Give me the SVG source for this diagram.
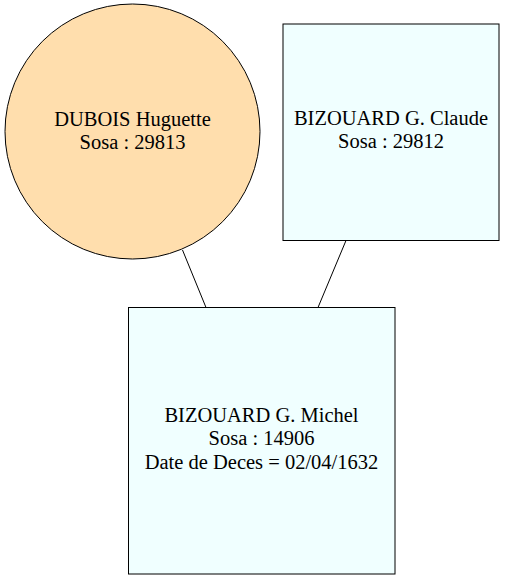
<svg xmlns="http://www.w3.org/2000/svg" width="505" height="580" viewBox="0 0 505 580">
<style>
text{font-family:"Liberation Serif","Times New Roman",serif;font-size:20.5px;text-anchor:middle;fill:#000}
.n{stroke:#000;stroke-width:1}
.e{stroke:#000;stroke-width:1;fill:none}
</style>
<rect width="505" height="580" fill="#fff"/>
<g id="connectors">
<line class="e" x1="182.5" y1="250" x2="206" y2="307.5"/>
<line class="e" x1="346" y1="240.5" x2="318" y2="307.5"/>
</g>
<g id="node-dubois">
<circle class="n" cx="132.5" cy="131.5" r="127.5" fill="#ffdead"/>
<text x="132.5" y="126">DUBOIS Huguette</text>
<text x="132.5" y="149">Sosa : 29813</text>
</g>
<g id="node-claude">
<rect class="n" x="283" y="24" width="216" height="216.5" fill="#f0ffff"/>
<text x="391" y="125">BIZOUARD G. Claude</text>
<text x="391" y="148">Sosa : 29812</text>
</g>
<g id="node-michel">
<rect class="n" x="128.5" y="307.5" width="266.5" height="266.5" fill="#f0ffff"/>
<text x="261.5" y="422">BIZOUARD G. Michel</text>
<text x="261.5" y="445">Sosa : 14906</text>
<text x="261.5" y="469">Date de Deces = 02/04/1632</text>
</g>
</svg>
